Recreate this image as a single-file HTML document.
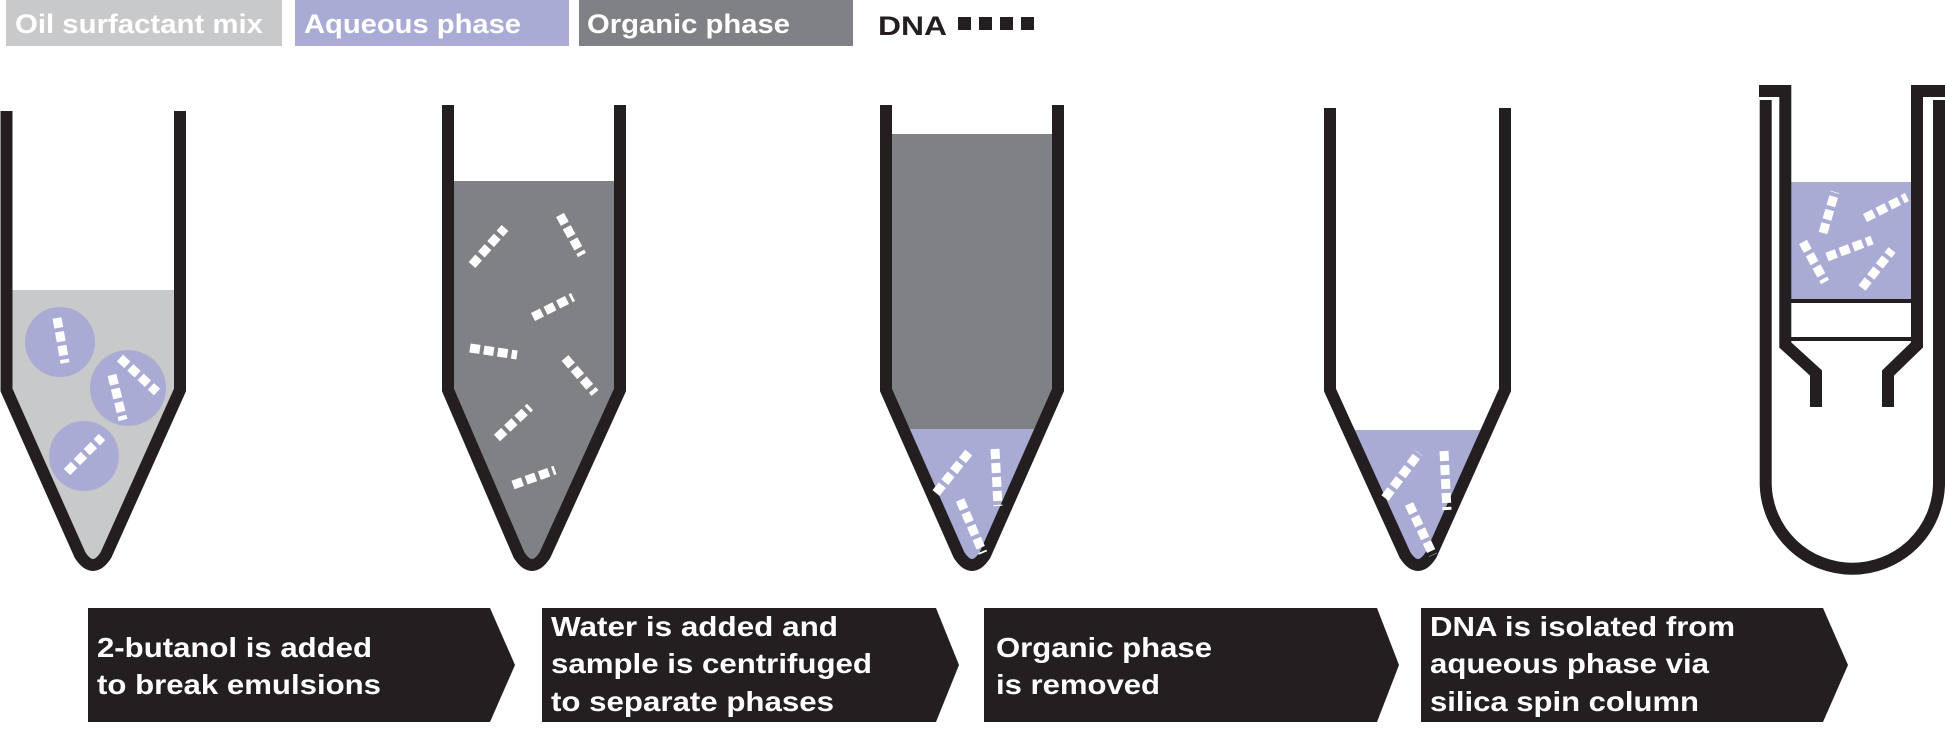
<!DOCTYPE html>
<html><head><meta charset="utf-8"><style>html,body{margin:0;padding:0;background:#fff}svg{display:block}</style></head>
<body>
<svg width="1945" height="736" viewBox="0 0 1945 736" xmlns="http://www.w3.org/2000/svg" font-family="'Liberation Sans', sans-serif" font-weight="bold">
<!-- legend -->
<rect x="6" y="0" width="276" height="46" fill="#c8c9cb"/>
<rect x="295" y="0" width="274" height="46" fill="#a9abd4"/>
<rect x="579" y="0" width="274" height="46" fill="#808184"/>
<g fill="#fff" font-size="27">
<text x="15" y="33" textLength="248" lengthAdjust="spacingAndGlyphs">Oil surfactant mix</text>
<text x="304" y="33" textLength="217" lengthAdjust="spacingAndGlyphs">Aqueous phase</text>
<text x="587" y="33" textLength="203" lengthAdjust="spacingAndGlyphs">Organic phase</text>
</g>
<text x="878" y="35" font-size="27" fill="#231f20" textLength="69" lengthAdjust="spacingAndGlyphs">DNA</text>
<g fill="#231f20"><rect x="958" y="17" width="13" height="13"/><rect x="979" y="17" width="13" height="13"/><rect x="1000" y="17" width="13" height="13"/><rect x="1021" y="17" width="13" height="13"/></g>

<!-- tube 1 -->
<path d="M6.5,290 H180 V390 L106,555 Q93,575 80,555 L6.5,390 Z" fill="#c8c9cb"/>
<g fill="#a9abd4"><circle cx="60" cy="342" r="35"/><circle cx="128" cy="388" r="38"/><circle cx="84" cy="456" r="35"/></g>
<path d="M6.5,111 V390 L80,555 Q93,575 106,555 L180,390 V111" fill="none" stroke="#231f20" stroke-width="12"/>

<!-- tube 2 -->
<path d="M448,181 H620 V390 L545,555 Q532,575 519,555 L448,390 Z" fill="#808184"/>
<path d="M448,105 V390 L519,555 Q532,575 545,555 L620,390 V105" fill="none" stroke="#231f20" stroke-width="12"/>

<!-- tube 3 -->
<path d="M886,134 H1058 V390 L1041,429 H903 L886,390 Z" fill="#808184"/>
<path d="M903,429 H1041 L985,555 Q972,575 959,555 Z" fill="#a9abd4"/>
<path d="M886,105 V390 L959,555 Q972,575 985,555 L1058,390 V105" fill="none" stroke="#231f20" stroke-width="12"/>

<!-- tube 4 -->
<path d="M1348,430 H1487 L1431,555 Q1418,575 1405,555 Z" fill="#a9abd4"/>
<path d="M1330,108 V390 L1405,555 Q1418,575 1431,555 L1505,390 V108" fill="none" stroke="#231f20" stroke-width="12"/>

<!-- tube 5 spin column -->
<rect x="1791" y="182" width="126" height="118" fill="#a9abd4"/>
<path d="M1765.7,100 V485 A86.7,86.7 0 0 0 1939,485 V100" fill="none" stroke="#231f20" stroke-width="12"/>
<path d="M1759,91 H1785.3 V345 L1816,373 V407" fill="none" stroke="#231f20" stroke-width="12"/>
<path d="M1945,91 H1917 V345 L1888,373 V407" fill="none" stroke="#231f20" stroke-width="12"/>
<rect x="1785" y="299" width="132" height="4" fill="#231f20"/>
<rect x="1785" y="337" width="132" height="4" fill="#231f20"/>

<!-- DNA fragments -->
<g stroke="#fff" stroke-width="9" stroke-dasharray="10 4" fill="none">
<line x1="57" y1="318" x2="65" y2="363"/>
<line x1="112" y1="375" x2="123" y2="420"/>
<line x1="120" y1="358" x2="157" y2="392"/>
<line x1="67" y1="472" x2="102" y2="437"/>
<line x1="472" y1="265" x2="505" y2="228"/>
<line x1="560" y1="215" x2="582" y2="255"/>
<line x1="533" y1="317" x2="573" y2="297"/>
<line x1="470" y1="348" x2="517" y2="355"/>
<line x1="565" y1="358" x2="595" y2="393"/>
<line x1="497" y1="438" x2="530" y2="407"/>
<line x1="513" y1="485" x2="555" y2="470"/>
<line x1="936" y1="493" x2="970" y2="451"/>
<line x1="995" y1="449" x2="998" y2="506"/>
<line x1="960" y1="500" x2="983" y2="553"/>
<line x1="1385" y1="498" x2="1419" y2="453"/>
<line x1="1444" y1="451" x2="1447" y2="510"/>
<line x1="1409" y1="504" x2="1433" y2="555"/>
<line x1="1823" y1="233" x2="1835" y2="192"/>
<line x1="1865" y1="218" x2="1907" y2="197"/>
<line x1="1827" y1="257" x2="1872" y2="240"/>
<line x1="1803" y1="242" x2="1825" y2="282"/>
<line x1="1862" y1="288" x2="1892" y2="250"/>
</g>

<!-- label arrows -->
<g fill="#231f20">
<path d="M88,608 H490 L515,665 L490,722 H88 Z"/>
<path d="M542,608 H936 L959,665 L936,722 H542 Z"/>
<path d="M984,608 H1377 L1399,665 L1377,722 H984 Z"/>
<path d="M1421,608 H1823 L1848,665 L1823,722 H1421 Z"/>
</g>
<g fill="#fff" font-size="28">
<text x="97" y="657" textLength="275" lengthAdjust="spacingAndGlyphs">2-butanol is added</text>
<text x="97" y="694" textLength="284" lengthAdjust="spacingAndGlyphs">to break emulsions</text>
<text x="551" y="636" textLength="287" lengthAdjust="spacingAndGlyphs">Water is added and</text>
<text x="551" y="673" textLength="321" lengthAdjust="spacingAndGlyphs">sample is centrifuged</text>
<text x="551" y="711" textLength="283" lengthAdjust="spacingAndGlyphs">to separate phases</text>
<text x="996" y="657" textLength="216" lengthAdjust="spacingAndGlyphs">Organic phase</text>
<text x="996" y="694" textLength="164" lengthAdjust="spacingAndGlyphs">is removed</text>
<text x="1430" y="636" textLength="305" lengthAdjust="spacingAndGlyphs">DNA is isolated from</text>
<text x="1430" y="673" textLength="279" lengthAdjust="spacingAndGlyphs">aqueous phase via</text>
<text x="1430" y="711" textLength="269" lengthAdjust="spacingAndGlyphs">silica spin column</text>
</g>
</svg>
</body></html>
